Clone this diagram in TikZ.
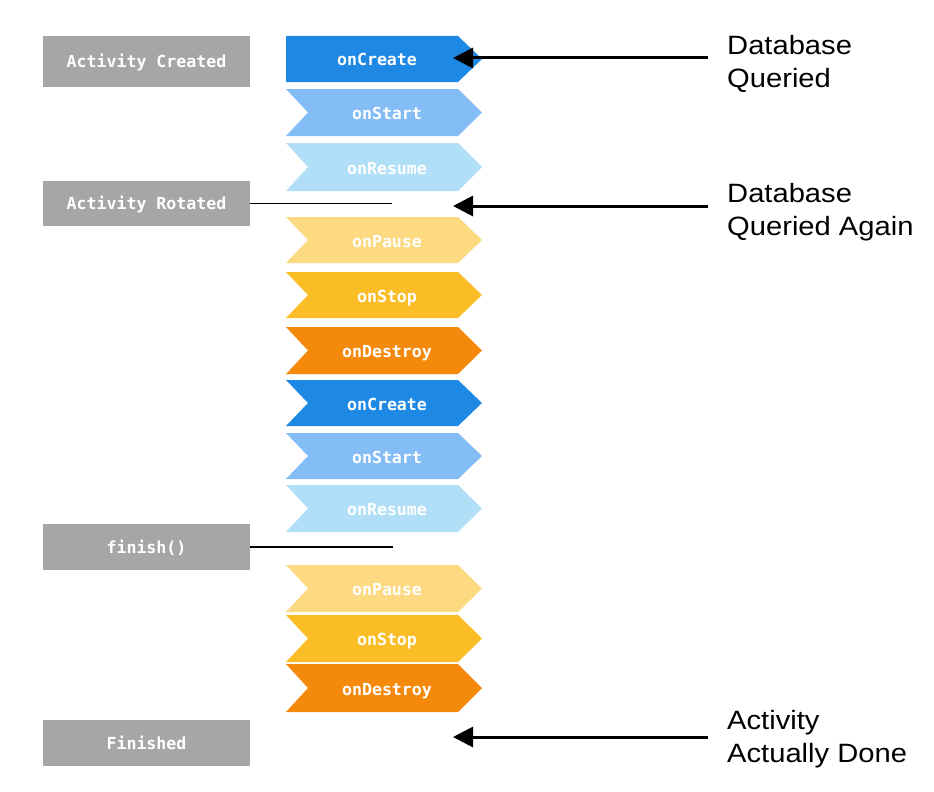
\documentclass[tikz,border=0pt]{standalone}
\usepackage{fontspec}
\setmainfont{Liberation Sans}[FakeStretch=1.1]
\newfontfamily\boxmono{DejaVu Sans Mono}
\usetikzlibrary{arrows.meta}
\definecolor{boxgray}{RGB}{166,166,166}
\definecolor{cCreate}{RGB}{30,136,229}
\definecolor{cStart}{RGB}{132,188,246}
\definecolor{cResume}{RGB}{178,223,248}
\definecolor{cPause}{RGB}{253,217,130}
\definecolor{cStop}{RGB}{251,189,38}
\definecolor{cDestroy}{RGB}{245,137,12}
\tikzset{
  monotext/.style={text=white, text height=12pt, text depth=0pt,
    font=\boxmono\bfseries\fontsize{16.6}{19}\selectfont},
  statebox/.style={monotext, fill=boxgray, draw=none, minimum width=207pt, inner sep=0pt},
  chevlabel/.style={monotext, inner sep=0pt},
  note/.style={anchor=base west, align=left, inner sep=0pt, font=\fontsize{26.5}{33}\selectfont},
  callout/.style={line width=3pt, -{Triangle[length=20pt,width=20pt]}},
  tieline/.style={line width=1.6pt},
}
% \chevron{top}{bottom}{colour}{label}{name}{notch depth}{label x}
\newcommand{\chevron}[7]{%
  \fill[#3] (286,#1) -- (458,#1) -- (482,{(#1+#2)/2}) -- (458,#2) -- (286,#2)
     -- ({286+#6},{(#1+#2)/2}) -- cycle;
  \node[chevlabel] (#5) at (#7,{(#1+#2)/2+1}) {#4};%
}
\begin{document}
\begin{tikzpicture}[x=1pt,y=-1pt]
\useasboundingbox (0,0) rectangle (934,792);
\fill[white] (0,0) rectangle (934,792);

% state boxes
\node[statebox, minimum height=51pt] (created) at (146.5,61.5) {Activity Created};
\node[statebox, minimum height=45pt] (rotated) at (146.5,203.5) {Activity Rotated};
\node[statebox, minimum height=46pt] (finish) at (146.5,547) {finish()};
\node[statebox, minimum height=46pt] (finished) at (146.5,743) {Finished};

% lifecycle chevrons
\chevron{36}{82}{cCreate}{onCreate}{create1}{0}{377}
\chevron{89}{136}{cStart}{onStart}{start1}{22}{387}
\chevron{143}{191}{cResume}{onResume}{resume1}{22}{387}
\chevron{217}{263}{cPause}{onPause}{pause1}{22}{387}
\chevron{272}{318}{cStop}{onStop}{stop1}{22}{387}
\chevron{327}{374}{cDestroy}{onDestroy}{destroy1}{22}{387}
\chevron{380}{426}{cCreate}{onCreate}{create2}{22}{387}
\chevron{433}{479}{cStart}{onStart}{start2}{22}{387}
\chevron{485}{532}{cResume}{onResume}{resume2}{22}{387}
\chevron{565}{612}{cPause}{onPause}{pause2}{22}{387}
\chevron{615}{662}{cStop}{onStop}{stop2}{22}{387}
\chevron{664}{712}{cDestroy}{onDestroy}{destroy2}{22}{387}

% tie lines from events
\coordinate (rotend) at (392,203.5);
\coordinate (finend) at (393,547);
\draw[tieline] (rotated.east) -- (rotend);
\draw[tieline] (finish.east) -- (finend);

% notes (base anchor = baseline of the last line)
\node[note] (n1) at (727,88) {Database\\Queried};
\node[note] (n2) at (727,235) {Database\\Queried Again};
\node[note] (n3) at (727,762) {Activity\\Actually Done};

% callout arrows
\coordinate (a1s) at (708,58);   \coordinate (a1e) at (453,58);
\coordinate (a2s) at (708,206);  \coordinate (a2e) at (453,206);
\coordinate (a3s) at (708,737);  \coordinate (a3e) at (453,737);
\draw[callout] (a1s) -- (a1e);
\draw[callout] (a2s) -- (a2e);
\draw[callout] (a3s) -- (a3e);
\end{tikzpicture}
\end{document}
